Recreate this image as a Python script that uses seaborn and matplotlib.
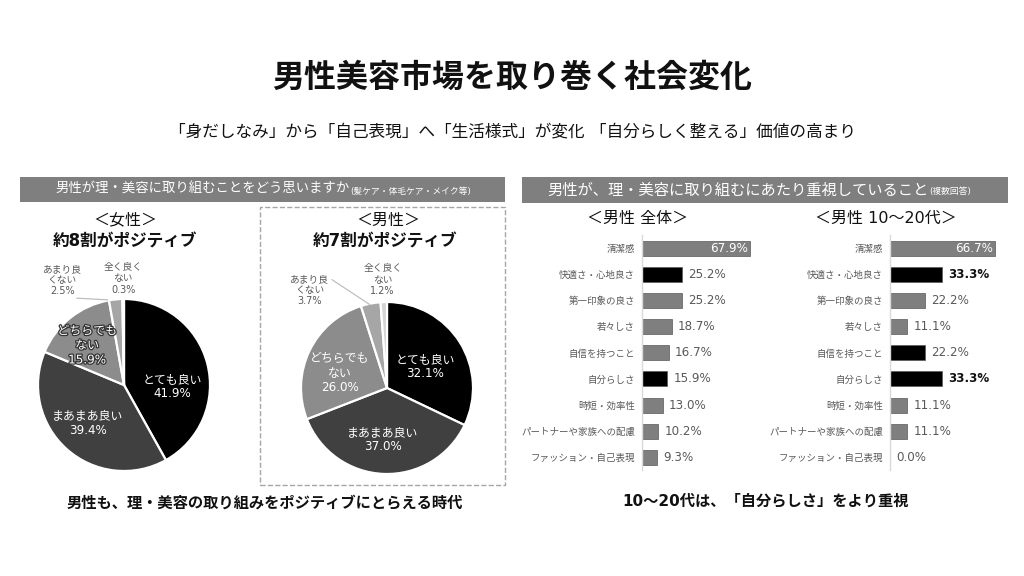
import matplotlib
matplotlib.use('Agg')
import matplotlib.pyplot as plt
import matplotlib.patheffects as pe
from matplotlib.patches import Rectangle
import seaborn as sns
import pandas as pd

sns.set_theme(style='white')
# DejaVu for latin/digits (Verdana-like), Noto CJK for Japanese
plt.rcParams['font.family'] = ['DejaVu Sans', 'Noto Sans CJK JP']

# --- data ---
pie_labels = ['とても良い', 'まあまあ良い', 'どちらでも\nない', 'あまり良\nくない', '全く良く\nない']
female_vals = [41.9, 39.4, 15.9, 2.5, 0.3]
male_vals = [32.1, 37.0, 26.0, 3.7, 1.2]
pie_colors = ['#000000', '#404040', '#8c8c8c', '#a6a6a6', '#d4d4d4']

bar_cats = ['清潔感', '快適さ・心地良さ', '第一印象の良さ', '若々しさ', '自信を持つこと',
            '自分らしさ', '時短・効率性', 'パートナーや家族への配慮', 'ファッション・自己表現']
all_vals = [67.9, 25.2, 25.2, 18.7, 16.7, 15.9, 13.0, 10.2, 9.3]
young_vals = [66.7, 33.3, 22.2, 11.1, 22.2, 33.3, 11.1, 11.1, 0.0]
all_hl = ['快適さ・心地良さ', '自分らしさ']
young_hl = ['快適さ・心地良さ', '自信を持つこと', '自分らしさ']
young_bold = ['快適さ・心地良さ', '自分らしさ']

W, H = 1024, 576
fig = plt.figure(figsize=(W / 100, H / 100), dpi=100)
fig.patch.set_facecolor('white')


def px_axes(x, y, w, h):
    return fig.add_axes([x / W, 1 - (y + h) / H, w / W, h / H])


def ftext(x, y, s, **kw):
    return fig.text(x / W, 1 - y / H, s, **kw)


def frect(x, y, w, h, **kw):
    fig.patches.append(Rectangle((x / W, 1 - (y + h) / H), w / W, h / H,
                                 transform=fig.transFigure, **kw))


# titles
ftext(512, 78, '男性美容市場を取り巻く社会変化', ha='center', va='center',
      fontsize=23, fontweight='bold', color='#111111')
ftext(512, 131, '「身だしなみ」から「自己表現」へ「生活様式」が変化 「自分らしく整える」価値の高まり',
      ha='center', va='center', fontsize=12, color='#111111')

# header bars
frect(20, 177, 485, 25, facecolor='#7f7f7f', edgecolor='none')
frect(522, 177, 486, 26, facecolor='#7f7f7f', edgecolor='none')

fig.canvas.draw()
rend = fig.canvas.get_renderer()


def header(x0, y, main, small, size):
    t = ftext(x0, y, main, ha='left', va='center', fontsize=size, color='white')
    bb = t.get_window_extent(renderer=rend)
    ftext(bb.x1 + 1, y + 2, small, ha='left', va='center', fontsize=6.3, color='white')


header(55, 189.5, '男性が理・美容に取り組むことをどう思いますか', '(髪ケア・体毛ケア・メイク等)', 9.6)
header(547, 190, '男性が、理・美容に取り組むにあたり重視していること', '(複数回答)', 11)

# dashed box around male pie
frect(260, 207, 245, 278, facecolor='none', edgecolor='#a6a6a6', linestyle='--', linewidth=1)

# pie titles
ftext(125, 220, '＜女性＞', ha='center', va='center', fontsize=11.5, color='#111111')
ftext(125, 242, '約8割がポジティブ', ha='center', va='center', fontsize=12,
      fontweight='bold', color='#111111')
ftext(388, 220, '＜男性＞', ha='center', va='center', fontsize=11.5, color='#111111')
ftext(385, 242, '約7割がポジティブ', ha='center', va='center', fontsize=12,
      fontweight='bold', color='#111111')


def draw_pie(cx, cy, r, vals, inner_pos, outer_pos, leader, outline_mid):
    half = 150
    ax = px_axes(cx - half, cy - half, 2 * half, 2 * half)
    ax.pie(vals, colors=pie_colors, startangle=90, counterclock=False,
           wedgeprops=dict(edgecolor='white', linewidth=1.6))
    lim = half / r
    ax.set_xlim(-lim, lim)
    ax.set_ylim(-lim, lim)
    ax.set_aspect('equal')
    ax.axis('off')
    for i in range(3):
        lab = f'{pie_labels[i]}\n{vals[i]:.1f}%'
        x, y = inner_pos[i]
        kw = {}
        if i == 2 and outline_mid:
            kw['path_effects'] = [pe.withStroke(linewidth=1.8, foreground='#333333')]
        ax.text(x, y, lab, ha='center', va='center', fontsize=8.6, color='white',
                linespacing=1.15, **kw)
    for i in range(3, 5):
        lab = f'{pie_labels[i]}\n{vals[i]:.1f}%'
        x, y = outer_pos[i - 3]
        ax.text(x, y, lab, ha='center', va='center', fontsize=7, color='#595959',
                linespacing=1.15)
    (x0, y0), (x1, y1) = leader
    ax.plot([x0, x1], [y0, y1], color='#bfbfbf', lw=0.9)


draw_pie(124, 385, 86, female_vals,
         inner_pos=[(0.56, -0.02), (-0.42, -0.44), (-0.43, 0.46)],
         outer_pos=[(-0.72, 1.22), (-0.01, 1.24)],
         leader=((-0.55, 1.01), (-0.19, 0.99)), outline_mid=True)
draw_pie(387, 388, 86, male_vals,
         inner_pos=[(0.44, 0.25), (-0.05, -0.6), (-0.55, 0.17)],
         outer_pos=[(-0.9, 1.14), (-0.05, 1.26)],
         leader=((-0.64, 1.26), (-0.2, 0.97)), outline_mid=False)

ftext(265, 503, '男性も、理・美容の取り組みをポジティブにとらえる時代', ha='center',
      va='center', fontsize=11, fontweight='bold', color='#111111')

# bar charts
ftext(638, 218, '＜男性 全体＞', ha='center', va='center', fontsize=11.5, color='#111111')
ftext(886, 218, '＜男性 10～20代＞', ha='center', va='center', fontsize=11.5, color='#111111')


def draw_bars(x0, width, scale, vals, hl, bold):
    ax = px_axes(x0, 235.2, width, 235.2)
    df = pd.DataFrame({'cat': bar_cats, 'val': vals})
    pal = ['#000000' if c in hl else '#7f7f7f' for c in bar_cats]
    sns.barplot(data=df, x='val', y='cat', hue='cat', palette=pal, legend=False,
                width=0.57, edgecolor='#595959', linewidth=0.5, ax=ax)
    ax.set_xlim(0, width / scale)
    ax.set_ylim(8.5, -0.5)
    ax.set_xlabel('')
    ax.set_ylabel('')
    ax.set_xticks([])
    ax.tick_params(axis='y', length=0, pad=5, labelsize=6.8, labelcolor='#595959')
    for s in ['top', 'right', 'bottom']:
        ax.spines[s].set_visible(False)
    ax.spines['left'].set_color('#d9d9d9')
    ax.spines['left'].set_linewidth(1)
    ax.set_facecolor('none')
    off = 6 / scale
    for i, (c, v) in enumerate(zip(bar_cats, vals)):
        if v > 50:
            ax.text(v - 1.5 / scale, i, f'{v:.1f}%', ha='right', va='center',
                    fontsize=8.6, color='white')
        elif c in bold:
            ax.text(v + off, i, f'{v:.1f}%', ha='left', va='center',
                    fontsize=8.6, color='#111111', fontweight='bold')
        else:
            ax.text(v + off, i, f'{v:.1f}%', ha='left', va='center',
                    fontsize=8.6, color='#595959')


draw_bars(642, 150, 1.59, all_vals, all_hl, [])
draw_bars(890, 125, 1.574, young_vals, young_hl, young_bold)

ftext(766, 501, '10～20代は、「自分らしさ」をより重視', ha='center', va='center',
      fontsize=11, fontweight='bold', color='#111111')

fig.savefig('out.png', dpi=100, facecolor='white')
